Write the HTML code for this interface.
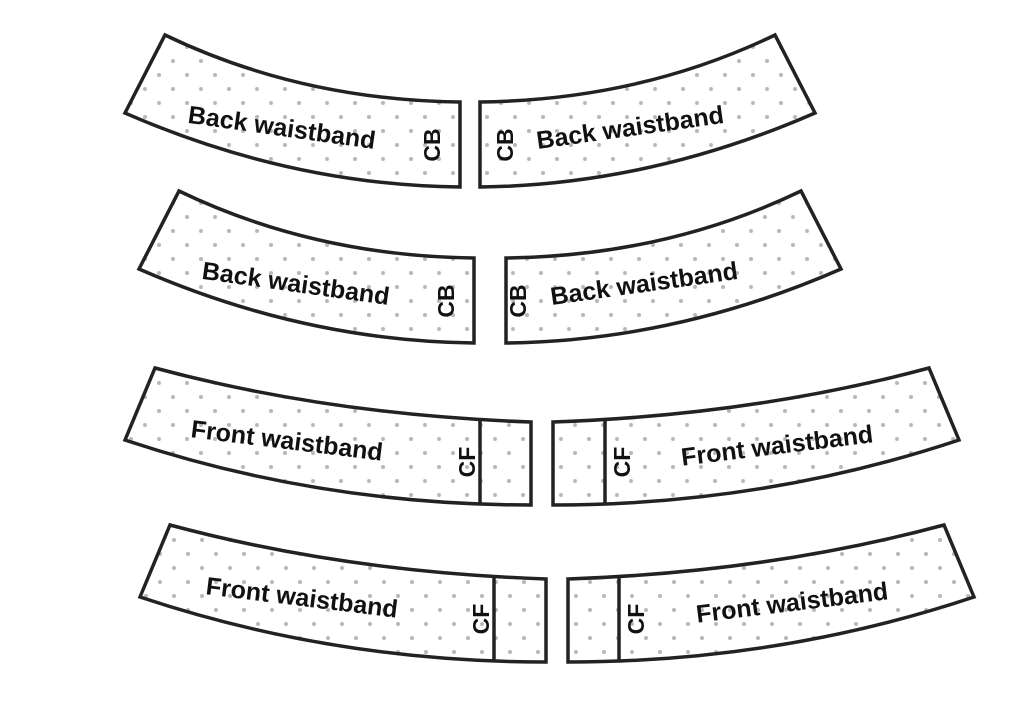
<!DOCTYPE html>
<html><head><meta charset="utf-8"><style>
html,body{margin:0;padding:0;background:#fff;}
svg{display:block}
text{font-family:"Liberation Sans",sans-serif;font-weight:bold;fill:#111;}
</style></head><body>
<svg width="1024" height="723" viewBox="0 0 1024 723" xmlns="http://www.w3.org/2000/svg">
<defs>
<pattern id="d" width="28" height="28" patternUnits="userSpaceOnUse" x="2" y="2">
<circle cx="3" cy="3" r="2" fill="#b8b8b8"/><circle cx="17" cy="17" r="2" fill="#b8b8b8"/>
</pattern>
<path id="bk" d="M165,35 Q300,100 460,102 L460,187 Q290,185 125,113 Z"/>
<path id="fr" d="M155,368 Q330,415 531,422 L531,505 Q320,505 125,440 Z"/>
</defs>
<g fill="url(#d)" stroke="#222" stroke-width="3.5" stroke-linejoin="miter">
<use href="#bk"/>
<use href="#bk" transform="translate(940,0) scale(-1,1)"/>
<use href="#bk" transform="translate(14,156)"/>
<use href="#bk" transform="translate(14,156) translate(952,0) scale(-1,1)"/>
<use href="#fr"/>
<use href="#fr" transform="translate(1084,0) scale(-1,1)"/>
<use href="#fr" transform="translate(15,157)"/>
<use href="#fr" transform="translate(15,157) translate(1084,0) scale(-1,1)"/>
</g>
<g stroke="#222" stroke-width="3.5">
<line x1="480" y1="421" x2="480" y2="505"/>
<line x1="605" y1="421" x2="605" y2="505"/>
<line x1="494" y1="578" x2="494" y2="662"/>
<line x1="619" y1="578" x2="619" y2="662"/>
</g>
<g font-size="25">
<text x="282" y="136" text-anchor="middle" transform="rotate(8 282 127)">Back waistband</text>
<text x="630" y="136" text-anchor="middle" transform="rotate(-8 630 127)">Back waistband</text>
<text x="296" y="292" text-anchor="middle" transform="rotate(8 296 283)">Back waistband</text>
<text x="644" y="292" text-anchor="middle" transform="rotate(-8 644 283)">Back waistband</text>
<text x="287" y="449" text-anchor="middle" transform="rotate(7 287 440)">Front waistband</text>
<text x="777" y="454" text-anchor="middle" transform="rotate(-7 777 445)">Front waistband</text>
<text x="302" y="606" text-anchor="middle" transform="rotate(7 302 597)">Front waistband</text>
<text x="792" y="611" text-anchor="middle" transform="rotate(-7 792 602)">Front waistband</text>
</g>
<g font-size="23">
<text x="432" y="153" text-anchor="middle" transform="rotate(-90 432 145)">CB</text>
<text x="505" y="153" text-anchor="middle" transform="rotate(-90 505 145)">CB</text>
<text x="446" y="309" text-anchor="middle" transform="rotate(-90 446 301)">CB</text>
<text x="518" y="309" text-anchor="middle" transform="rotate(-90 518 301)">CB</text>
<text x="467" y="470" text-anchor="middle" transform="rotate(-90 467 462)">CF</text>
<text x="622" y="470" text-anchor="middle" transform="rotate(-90 622 462)">CF</text>
<text x="481" y="627" text-anchor="middle" transform="rotate(-90 481 619)">CF</text>
<text x="636" y="627" text-anchor="middle" transform="rotate(-90 636 619)">CF</text>
</g>
</svg>
</body></html>
